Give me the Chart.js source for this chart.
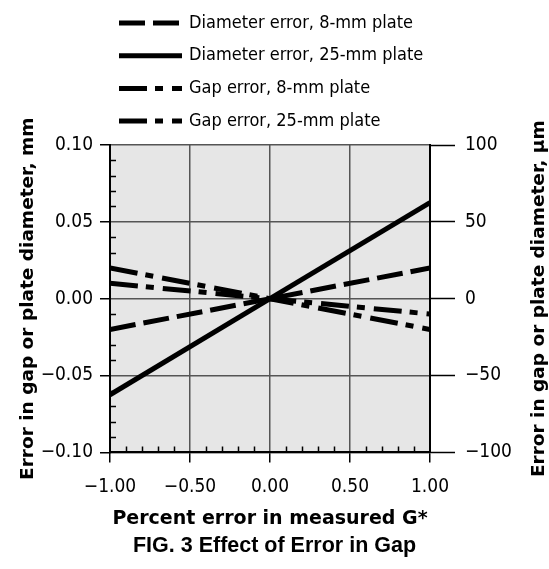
<!DOCTYPE html>
<html>
<head>
<meta charset="utf-8">
<title>FIG. 3 Effect of Error in Gap</title>
<script src="https://cdn.jsdelivr.net/npm/chart.js@4"></script>
<style>
  html, body { margin: 0; padding: 0; background: #fff; }
  canvas { display: block; }
</style>
</head>
<body>
<canvas id="chart" width="549" height="569"></canvas>
<script>
// Data
const xValues = [-1, 0, 1];
const diameter8mm = [-0.02, 0, 0.02];
const diameter25mm = [-0.0625, 0, 0.0625];
const gap8mm = [0.02, 0, -0.02];
const gap25mm = [0.01, 0, -0.01];
const seriesLabels = [
    'Diameter error, 8-mm plate',
    'Diameter error, 25-mm plate',
    'Gap error, 8-mm plate',
    'Gap error, 25-mm plate'
];
const seriesDashes = [[26, 8], [], [28, 8, 8, 9], [28, 8, 8, 9]];

const tickFont = "'DejaVu Sans Condensed', 'DejaVu Sans', sans-serif";
const boldFont = "'DejaVu Sans', sans-serif";

const MINUS = '\u2212';
const fmt = (v, digits) => {
    if (Math.abs(v) < 1e-9) return (0).toFixed(digits);
    return (v < 0 ? MINUS : '') + Math.abs(v).toFixed(digits);
};

const toPoints = ys => xValues.map((x, i) => ({x: x, y: ys[i]}));

const seriesData = [diameter8mm, diameter25mm, gap8mm, gap25mm];
const datasets = seriesData.map((ys, i) => ({
    label: seriesLabels[i],
    data: toPoints(ys),
    borderColor: '#000',
    borderWidth: 5,
    borderDash: seriesDashes[i],
    borderCapStyle: 'butt',
    pointRadius: 0,
    fill: false,
    tension: 0,
    yAxisID: 'y'
}));

// grey plot background
const plotBackground = {
    id: 'plotBackground',
    beforeDraw(chart) {
        const {ctx, chartArea: a} = chart;
        ctx.save();
        ctx.fillStyle = '#fff';
        ctx.fillRect(0, 0, chart.width, chart.height);
        ctx.fillStyle = '#e6e6e6';
        ctx.fillRect(a.left, a.top, a.right - a.left, a.bottom - a.top);
        ctx.restore();
    }
};

// minor ticks inside the plot, legend on top, right axis title
const extras = {
    id: 'extras',
    afterDraw(chart) {
        const {ctx, chartArea: a, scales} = chart;
        ctx.save();
        ctx.strokeStyle = '#000';
        ctx.lineWidth = 1.5;
        ctx.beginPath();
        for (let k = -10; k <= 10; k++) {
            if (k % 5 === 0) continue;
            const py = Math.round(scales.y.getPixelForValue(k / 100)) + 0.5;
            ctx.moveTo(a.left, py);
            ctx.lineTo(a.left + 6, py);
        }
        for (let k = -10; k <= 10; k++) {
            if (k % 5 === 0) continue;
            const px = Math.round(scales.x.getPixelForValue(k / 10)) + 0.5;
            ctx.moveTo(px, a.bottom);
            ctx.lineTo(px, a.bottom - 6);
        }
        ctx.stroke();

        // legend
        ctx.font = "18px " + tickFont;
        ctx.textBaseline = 'middle';
        ctx.fillStyle = '#000';
        chart.data.datasets.forEach((ds, i) => {
            const y = 23 + i * 32.7;
            ctx.beginPath();
            ctx.setLineDash(ds.borderDash);
            ctx.lineWidth = 5;
            ctx.lineCap = 'butt';
            ctx.moveTo(119, y);
            ctx.lineTo(182, y);
            ctx.stroke();
            ctx.setLineDash([]);
            ctx.fillText(ds.label, 189, y);
        });

        // right-hand axis title, reading bottom to top like the left one
        const y2 = scales.y2;
        ctx.translate(539, (y2.top + y2.bottom) / 2);
        ctx.rotate(-Math.PI / 2);
        ctx.textAlign = 'center';
        ctx.font = "bold 18.5px " + boldFont;
        ctx.fillText('Error in gap or plate diameter, \u00b5m', 0, 0);
        ctx.restore();
    }
};

new Chart(document.getElementById('chart'), {
    type: 'line',
    data: {datasets: datasets},
    options: {
        responsive: false,
        animation: false,
        layout: {padding: {top: 145, left: 0, right: 0, bottom: 0}},
        plugins: {
            legend: {display: false},
            tooltip: {enabled: false},
            title: {
                display: true,
                position: 'bottom',
                text: 'FIG. 3 Effect of Error in Gap',
                color: '#000',
                font: {family: "'Liberation Sans', Arial, sans-serif", size: 21.5, weight: 'bold', lineHeight: 1.2},
                padding: {top: 0, bottom: 10}
            }
        },
        scales: {
            x: {
                type: 'linear',
                min: -1,
                max: 1,
                afterFit: s => { s.height = 80.8; },
                ticks: {
                    stepSize: 0.5,
                    color: '#000',
                    padding: 13,
                    font: {family: tickFont, size: 19},
                    callback: v => fmt(v, 2)
                },
                grid: {color: '#555', lineWidth: 1.5, tickLength: 10, tickColor: '#000', tickWidth: 1.5},
                border: {color: '#000', width: 2},
                title: {
                    display: true,
                    text: 'Percent error in measured G*',
                    color: '#000',
                    font: {family: boldFont, size: 19, weight: 'bold', lineHeight: 1.2},
                    padding: {top: 0, bottom: 3}
                }
            },
            y: {
                type: 'linear',
                position: 'left',
                min: -0.1,
                max: 0.1,
                afterFit: s => { s.width = 110; },
                ticks: {
                    stepSize: 0.05,
                    color: '#000',
                    padding: 7,
                    font: {family: tickFont, size: 19},
                    callback: v => fmt(v, 2)
                },
                grid: {color: '#555', lineWidth: 1.5, tickLength: 10, tickColor: '#000', tickWidth: 1.5},
                border: {color: '#000', width: 2},
                title: {
                    display: true,
                    text: 'Error in gap or plate diameter, mm',
                    color: '#000',
                    font: {family: boldFont, size: 18.5, weight: 'bold', lineHeight: 1.2},
                    padding: {top: 17.5, bottom: 0}
                }
            },
            y2: {
                type: 'linear',
                position: 'right',
                min: -100,
                max: 100,
                afterFit: s => { s.width = 119; },
                ticks: {
                    stepSize: 50,
                    color: '#000',
                    padding: 10,
                    font: {family: tickFont, size: 19},
                    callback: v => fmt(v, 0)
                },
                grid: {drawOnChartArea: false, tickLength: 25, tickColor: '#000', tickWidth: 1.5},
                border: {color: '#000', width: 2}
            }
        }
    },
    plugins: [plotBackground, extras]
});
</script>
</body>
</html>
